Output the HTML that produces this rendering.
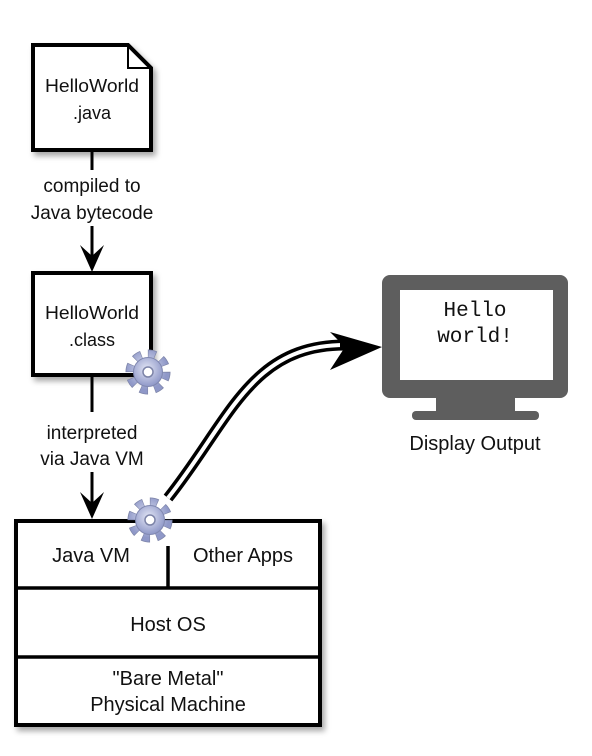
<!DOCTYPE html>
<html><head><meta charset="utf-8"><style>
body{margin:0;background:#fff;}
svg text{font-family:"Liberation Sans",sans-serif;fill:#111;}
</style></head><body>
<svg width="592" height="751" viewBox="0 0 592 751" xmlns="http://www.w3.org/2000/svg">
<defs>
<filter id="sh" x="-20%" y="-20%" width="150%" height="150%"><feDropShadow dx="3" dy="4" stdDeviation="3" flood-color="#000" flood-opacity="0.35"/></filter>
<radialGradient id="gg" cx="45%" cy="40%" r="60%"><stop offset="0" stop-color="#e3e6f5"/><stop offset="1" stop-color="#8f98c8"/></radialGradient>
<g id="gear">
<circle r="17.5" fill="none" stroke="#7d84a8" stroke-width="10" stroke-dasharray="7.5 6.2"/>
<circle r="17.5" fill="none" stroke="url(#gg)" stroke-width="8.5" stroke-dasharray="6.3 7.4" stroke-dashoffset="-0.6"/>
<circle r="14.5" fill="url(#gg)" stroke="#8088b0" stroke-width="1"/>
<circle r="5" fill="#fff" stroke="#7d84a8" stroke-width="1.5"/>
</g>
</defs>

<path d="M33 45 H128 L151 68 V150 H33 Z" fill="#fff" stroke="#000" stroke-width="4" filter="url(#sh)"/>
<path d="M128 45 V68 H151" fill="none" stroke="#000" stroke-width="2"/>
<text x="92" y="92" font-size="18" text-anchor="middle" textLength="94" lengthAdjust="spacingAndGlyphs">HelloWorld</text>
<text x="92" y="119" font-size="18" text-anchor="middle">.java</text>

<line x1="92" y1="150" x2="92" y2="170" stroke="#000" stroke-width="3"/>
<text x="92" y="192" font-size="19" text-anchor="middle">compiled to</text>
<text x="92" y="219" font-size="19" text-anchor="middle">Java bytecode</text>
<line x1="92" y1="226" x2="92" y2="262" stroke="#000" stroke-width="3"/>
<path d="M80 245 L92 272 L104 245 L92 256 Z" fill="#000"/>

<rect x="33" y="273" width="118" height="102" fill="#fff" stroke="#000" stroke-width="4" filter="url(#sh)"/>
<text x="92" y="319" font-size="18" text-anchor="middle" textLength="94" lengthAdjust="spacingAndGlyphs">HelloWorld</text>
<text x="92" y="346" font-size="18" text-anchor="middle">.class</text>
<use href="#gear" x="148" y="372"/>

<line x1="92" y1="377" x2="92" y2="412" stroke="#000" stroke-width="3"/>
<text x="92" y="439" font-size="19" text-anchor="middle">interpreted</text>
<text x="92" y="465" font-size="19" text-anchor="middle">via Java VM</text>
<line x1="92" y1="472" x2="92" y2="508" stroke="#000" stroke-width="3"/>
<path d="M80 492 L92 519 L104 492 L92 503 Z" fill="#000"/>

<path d="M168 498 C230 420 250 345 345 345" fill="none" stroke="#000" stroke-width="11"/>
<path d="M168 498 C230 420 250 345 345 345" fill="none" stroke="#fff" stroke-width="4"/>
<path d="M330 332 L382 347 L330 370 L345 347 Z" fill="#000"/>
<path d="M340 345 L352 345" stroke="#000" stroke-width="11"/>

<rect x="16" y="521" width="304" height="204" fill="#fff" stroke="#000" stroke-width="4" filter="url(#sh)"/>
<line x1="16" y1="588" x2="320" y2="588" stroke="#000" stroke-width="3.5"/>
<line x1="16" y1="657" x2="320" y2="657" stroke="#000" stroke-width="3.5"/>
<line x1="168" y1="546" x2="168" y2="588" stroke="#000" stroke-width="3.5"/>
<text x="91" y="562" font-size="20" text-anchor="middle">Java VM</text>
<text x="243" y="562" font-size="20" text-anchor="middle">Other Apps</text>
<text x="168" y="631" font-size="20" text-anchor="middle">Host OS</text>
<text x="168" y="685" font-size="20" text-anchor="middle">"Bare Metal"</text>
<text x="168" y="711" font-size="20" text-anchor="middle">Physical Machine</text>
<use href="#gear" x="150" y="520"/>

<rect x="382" y="275" width="186" height="123" rx="8" fill="#5e5e5e"/>
<rect x="400" y="290" width="153" height="90" fill="#fff"/>
<rect x="436" y="396" width="79" height="18" fill="#5e5e5e"/>
<rect x="412" y="411" width="127" height="9" rx="4" fill="#5e5e5e"/>
<text x="475" y="316" font-size="21" text-anchor="middle" style="font-family:'Liberation Mono',monospace">Hello</text>
<text x="475" y="342" font-size="21" text-anchor="middle" style="font-family:'Liberation Mono',monospace">world!</text>
<text x="475" y="450" font-size="20" text-anchor="middle">Display Output</text>
</svg>
</body></html>
